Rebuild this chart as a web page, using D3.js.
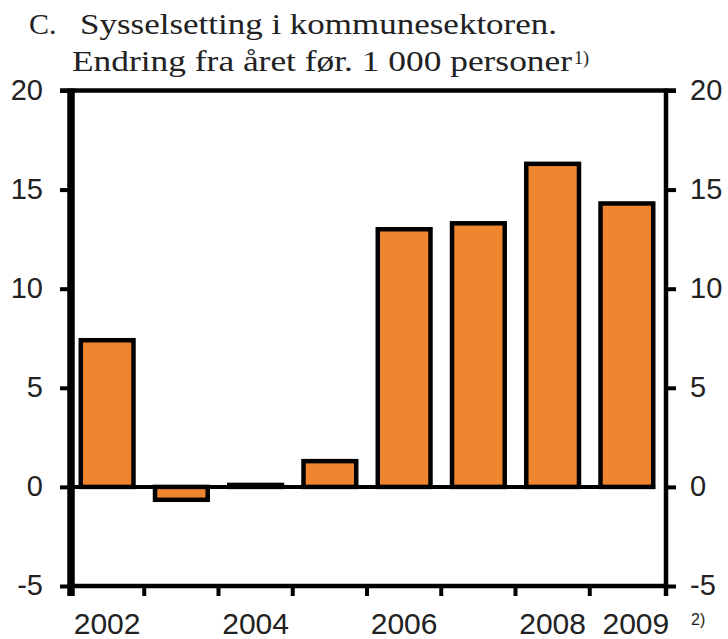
<!DOCTYPE html>
<html>
<head>
<meta charset="utf-8">
<style>
	body{ margin:0; background:#fff; }
	.tick text{ font-family:"Liberation Sans", Arial, sans-serif; font-size:29px; fill:#222; }
	.title{ font-family:"Liberation Serif", "Times New Roman", serif; font-size:30px; fill:#222; }
</style>
</head>
<body>
<script src="https://d3js.org/d3.v7.min.js"></script>
<script>

	// data
	var years = ["2002","2003","2004","2005","2006","2007","2008","2009"];
	var values = [7.4, -0.65, 0.1, 1.3, 13.0, 13.3, 16.3, 14.3];
	var yTicks = [-5, 0, 5, 10, 15, 20];
	var xLabels = ["2002","","2004","","2006","","2008","2009"];

	var width = 728, height = 639;

	var svg = d3.select("body").append("svg")
				.attr("width", width)
				.attr("height", height);

	var x = d3.scaleBand()
			.domain(years)
			.range([70, 664])
			.paddingInner(0.29)
			.paddingOuter(0.145);

	var y = d3.scaleLinear()
			.domain([-5, 20])
			.range([586, 90.5]);

	// title
	svg.append("text").attr("class","title")
		.attr("x", 29).attr("y", 34).text("C.");
	svg.append("text").attr("class","title")
		.attr("x", 80).attr("y", 34)
		.attr("textLength", 477).attr("lengthAdjust","spacingAndGlyphs")
		.text("Sysselsetting i kommunesektoren.");
	svg.append("text").attr("class","title")
		.attr("x", 72).attr("y", 71)
		.attr("textLength", 500).attr("lengthAdjust","spacingAndGlyphs")
		.text("Endring fra året før. 1 000 personer");
	svg.append("text").attr("class","title")
		.attr("x", 574).attr("y", 64)
		.style("font-size","18px")
		.text("1)");

	// bars
	svg.selectAll(".bar")
		.data(years)
		.enter().append("rect")
		.attr("class","bar")
		.attr("x", function(d){ return x(d); })
		.attr("width", x.bandwidth())
		.attr("y", function(d,i){ return y(Math.max(0, values[i])); })
		.attr("height", function(d,i){ return Math.abs(y(values[i]) - y(0)); })
		.attr("fill", "#f0852f")
		.attr("stroke", "#000")
		.attr("stroke-width", 4.5);

	// zero line
	svg.append("line")
		.attr("x1", 70).attr("x2", x("2009") + x.bandwidth() + 2)
		.attr("y1", y(0)).attr("y2", y(0))
		.attr("stroke", "#000").attr("stroke-width", 4);

	// y axes
	var left = svg.append("g")
		.attr("transform", "translate(70,0)")
		.call(d3.axisLeft(y).tickValues(yTicks).tickSize(10).tickSizeOuter(0).tickPadding(17)
			.tickFormat(function(d){ return String(d); }));

	var right = svg.append("g")
		.attr("transform", "translate(666,0)")
		.call(d3.axisRight(y).tickValues(yTicks).tickSize(10).tickSizeOuter(0).tickPadding(14)
			.tickFormat(function(d){ return String(d); }));

	[left, right].forEach(function(a){
		a.select(".domain").remove();
		a.selectAll(".tick line").attr("stroke","#000").attr("stroke-width",4);
		a.selectAll(".tick text").attr("dy","0.3em");
	});

	// frame
	svg.append("line")
		.attr("x1", 60).attr("x2", 676)
		.attr("y1", y(20)).attr("y2", y(20))
		.attr("stroke","#000").attr("stroke-width",4.5);
	svg.append("line")
		.attr("x1", 70).attr("x2", 666)
		.attr("y1", y(-5)).attr("y2", y(-5))
		.attr("stroke","#000").attr("stroke-width",4.5);
	svg.append("line")
		.attr("x1", 71).attr("x2", 71)
		.attr("y1", y(20) - 2).attr("y2", y(-5) + 10)
		.attr("stroke","#000").attr("stroke-width",7.5);
	svg.append("line")
		.attr("x1", 666).attr("x2", 666)
		.attr("y1", y(20) - 2).attr("y2", y(-5) + 10)
		.attr("stroke","#000").attr("stroke-width",4.5);

	// x ticks at band edges
	var edges = years.slice(1).map(function(d){ return x(d) + x.bandwidth()/2 - x.step()/2; });
	svg.selectAll(".xtick")
		.data(edges)
		.enter().append("line")
		.attr("class","xtick")
		.attr("x1", function(d){ return d; }).attr("x2", function(d){ return d; })
		.attr("y1", y(-5)).attr("y2", y(-5) + 10)
		.attr("stroke","#000").attr("stroke-width",4);

	var xl = svg.append("g").attr("class","tick");
	xl.selectAll("text")
		.data(years)
		.enter().append("text")
		.attr("text-anchor","middle")
		.attr("x", function(d,i){ return x(d) + x.bandwidth()/2 + (i == years.length-1 ? 9 : 0); })
		.attr("y", 634)
		.style("font-size","30px")
		.text(function(d,i){ return xLabels[i]; });

	xl.append("text")
		.attr("x", 691).attr("y", 625)
		.style("font-size","16px")
		.text("2)");

</script>
</body>
</html>
